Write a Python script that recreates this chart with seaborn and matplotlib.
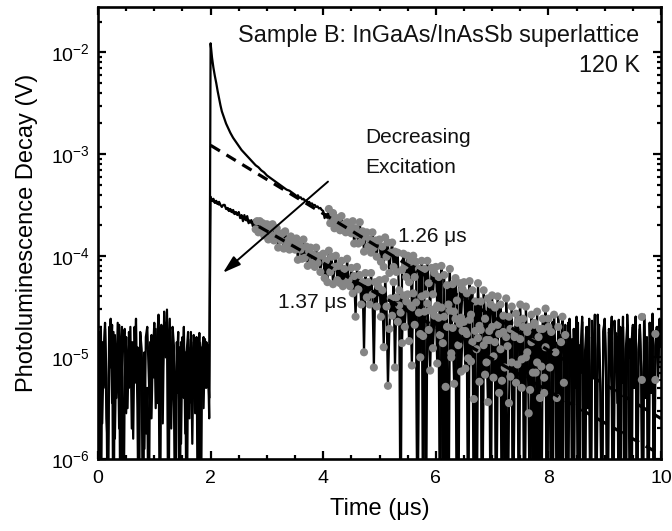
import numpy as np
import pandas as pd
import matplotlib
matplotlib.use("Agg")
import matplotlib.pyplot as plt
import seaborn as sns
from matplotlib.ticker import FixedLocator, LogLocator, MultipleLocator, NullFormatter

# ---------------- data (log10 of volts) ----------------
# pre-pulse background noise, t = 0 ... 1.975 us (step 0.025 us), one row per 0.25 us
t_pre = np.round(np.arange(0.0, 2.0, 0.025), 3)
log_pre_high = [
    -5.00, -4.75, -7.00, -4.85, -5.30, -4.72, -5.60, -5.90, -4.70, -5.10,
    -4.68, -7.00, -4.78, -5.40, -4.66, -5.70, -4.90, -4.70, -7.00, -5.20,
    -4.80, -5.50, -4.75, -5.10, -4.85, -5.80, -4.70, -5.25, -4.90, -5.60,
    -4.80, -5.05, -7.00, -4.95, -5.75, -5.30, -7.00, -4.85, -5.60, -4.90,
    -5.20, -4.72, -5.45, -4.70, -7.00, -4.68, -5.15, -4.66, -5.00, -4.53,
    -5.30, -4.62, -5.70, -4.75, -5.50, -7.00, -4.85, -5.35, -4.90, -5.85,
    -4.80, -5.40, -4.95, -7.00, -4.90, -5.60, -4.75, -5.30, -4.85, -5.55,
    -4.80, -7.00, -4.85, -5.40, -4.90, -5.50, -4.82, -5.30, -4.88, -5.60,
]
log_pre_low = [
    -4.80, -5.35, -4.70, -5.65, -4.95, -4.66, -5.20, -7.00, -4.85, -4.62,
    -5.45, -4.75, -5.80, -4.90, -5.10, -4.68, -7.00, -5.25, -4.80, -4.72,
    -5.55, -4.95, -5.30, -4.70, -5.70, -4.85, -5.05, -4.62, -5.50, -7.00,
    -4.75, -4.92, -5.40, -5.90, -4.80, -4.70, -5.15, -5.60, -4.78, -5.00,
    -4.66, -5.50, -4.85, -4.58, -5.25, -4.72, -5.65, -4.55, -4.95, -4.65,
    -7.00, -4.80, -5.35, -4.70, -4.90, -5.60, -5.10, -4.75, -7.00, -4.85,
    -5.20, -4.70, -5.75, -4.95, -4.75, -5.45, -4.82, -5.85, -4.78, -5.10,
    -4.88, -5.35, -4.76, -7.00, -4.92, -4.80, -5.30, -4.85, -5.00, -5.40,
]

# decays after the pulse, t = 2.000 ... 10.000 us (step 0.025 us), one row per 0.5 us
t_decay = np.round(np.arange(2.0, 10.0001, 0.025), 3)
log_high = [
    -1.91, -2.05, -2.15, -2.23, -2.30, -2.38, -2.45, -2.52, -2.58, -2.62,
    -2.66, -2.70, -2.73, -2.76, -2.79, -2.815, -2.84, -2.86, -2.88, -2.90,
    -2.92, -2.94, -2.96, -2.975, -2.99, -3.005, -3.02, -3.035, -3.05, -3.065,
    -3.08, -3.095, -3.11, -3.12, -3.13, -3.145, -3.16, -3.17, -3.18, -3.195,
    -3.21, -3.22, -3.23, -3.24, -3.25, -3.26, -3.27, -3.28, -3.29, -3.30,
    -3.31, -3.32, -3.33, -3.34, -3.35, -3.355, -3.36, -3.37, -3.38, -3.39,
    -3.40, -3.415, -3.405, -3.43, -3.425, -3.445, -3.44, -3.46, -3.455, -3.475,
    -3.47, -3.49, -3.485, -3.505, -3.50, -3.52, -3.515, -3.535, -3.53, -3.55,
    -3.56, -3.63, -3.59, -3.63, -3.54, -3.68, -3.64, -3.58, -3.73, -3.63,
    -3.69, -3.63, -3.75, -3.61, -3.73, -3.69, -3.77, -3.67, -3.76, -3.72,
    -3.78, -3.66, -3.88, -3.73, -3.79, -3.88, -3.67, -3.86, -3.76, -3.96,
    -3.81, -3.77, -3.91, -3.84, -3.97, -3.77, -3.92, -3.85, -4.01, -3.85,
    -3.84, -4.06, -3.91, -4.11, -3.82, -4.01, -3.87, -4.17, -3.97, -3.87,
    -4.11, -3.96, -4.16, -3.97, -4.49, -7.00, -4.14, -3.98, -4.10, -4.21,
    -4.00, -4.26, -4.06, -4.51, -4.00, -4.21, -4.06, -7.00, -4.13, -4.77,
    -4.05, -7.00, -4.13, -4.38, -4.05, -4.27, -4.54, -4.12, -4.38, -4.17,
    -4.11, -4.49, -4.21, -4.78, -4.10, -7.00, -4.19, -7.00, -4.29, -4.48,
    -4.13, -5.00, -4.28, -4.55, -4.22, -4.44, -7.00, -4.27, -4.61, -4.33,
    -4.26, -4.74, -4.37, -5.01, -4.25, -4.58, -4.34, -7.00, -4.45, -4.92,
    -4.27, -4.69, -4.45, -7.00, -4.34, -4.62, -5.05, -4.42, -4.83, -4.48,
    -4.39, -4.99, -4.51, -7.00, -4.40, -4.77, -4.48, -5.23, -4.59, -7.00,
    -4.42, -4.89, -4.60, -5.19, -4.50, -7.00, -4.80, -4.57, -5.07, -4.63,
    -4.48, -5.02, -4.62, -7.00, -4.50, -4.95, -4.70, -5.32, -4.58, -7.00,
    -4.66, -5.15, -4.55, -7.00, -4.72, -5.09, -4.62, -5.35, -4.52, -7.00,
    -4.62, -5.10, -4.75, -7.00, -4.58, -4.95, -5.40, -4.70, -7.00, -4.85,
    -4.60, -5.25, -4.78, -7.00, -4.66, -5.05, -4.90, -7.00, -4.72, -5.30,
    -4.60, -7.00, -4.88, -5.15, -4.65, -7.00, -4.95, -4.70, -5.50, -4.62,
    -7.00, -4.80, -5.05, -4.58, -7.00, -4.92, -4.68, -5.35, -7.00, -4.75,
    -4.65, -5.20, -7.00, -4.72, -4.98, -4.60, -7.00, -5.10, -4.76, -5.45,
    -4.63, -7.00, -4.90, -4.70, -5.25, -7.00, -4.58, -5.00, -4.82, -7.00,
    -4.68, -5.30, -4.60, -7.00, -4.95, -4.72, -5.15, -7.00, -4.62, -5.40,
    -4.85, -7.00, -4.66, -5.05, -4.57, -7.00, -4.90, -4.70, -5.20, -4.62,
    -4.90,
]
log_low = [
    -3.42, -3.46, -3.44, -3.48, -3.46, -3.49, -3.47, -3.50, -3.52, -3.50,
    -3.50, -3.54, -3.53, -3.56, -3.54, -3.57, -3.55, -3.59, -3.57, -3.60,
    -3.57, -3.63, -3.60, -3.66, -3.60, -3.65, -3.61, -3.68, -3.66, -3.65,
    -3.71, -3.65, -3.74, -3.66, -3.77, -3.66, -3.75, -3.68, -3.80, -3.71,
    -3.69, -3.84, -3.75, -3.82, -3.69, -3.85, -3.80, -3.73, -3.92, -3.79,
    -3.85, -3.78, -3.93, -3.76, -3.90, -3.85, -3.94, -3.81, -3.92, -3.86,
    -3.94, -3.83, -4.04, -3.89, -3.94, -4.03, -3.84, -4.02, -3.91, -4.10,
    -3.96, -3.92, -4.07, -3.99, -4.11, -3.92, -4.07, -4.00, -4.16, -4.00,
    -3.98, -4.22, -4.05, -4.26, -3.95, -4.16, -4.01, -4.28, -4.11, -4.00,
    -4.24, -4.10, -4.27, -4.05, -4.30, -4.13, -4.27, -4.03, -4.24, -4.30,
    -4.12, -4.37, -4.20, -4.60, -4.11, -4.33, -4.19, -4.48, -4.26, -4.95,
    -4.17, -4.41, -4.26, -4.48, -4.17, -4.38, -5.10, -4.26, -4.50, -4.30,
    -4.24, -4.60, -4.34, -4.90, -4.23, -4.50, -5.28, -4.72, -4.42, -4.59,
    -4.26, -5.10, -4.41, -4.65, -4.34, -4.56, -4.86, -4.39, -4.70, -4.45,
    -4.38, -4.84, -4.49, -5.08, -4.37, -4.68, -4.46, -7.00, -4.56, -5.00,
    -4.40, -4.79, -4.55, -7.00, -4.47, -4.73, -5.13, -4.53, -4.91, -4.59,
    -4.52, -5.06, -4.61, -7.00, -4.51, -4.86, -4.60, -5.29, -4.70, -7.00,
    -4.54, -4.96, -4.71, -5.26, -4.62, -7.00, -4.88, -4.67, -5.14, -4.74,
    -4.65, -5.11, -4.77, -7.00, -4.63, -5.04, -4.85, -5.41, -4.74, -7.00,
    -4.81, -5.24, -4.73, -7.00, -4.88, -5.17, -4.83, -5.44, -4.74, -7.00,
    -4.70, -5.20, -4.85, -7.00, -4.68, -5.35, -4.92, -7.00, -4.75, -5.10,
    -4.80, -7.00, -5.45, -4.72, -5.05, -7.00, -4.78, -5.25, -4.66, -7.00,
    -4.82, -5.30, -4.70, -7.00, -5.00, -4.75, -5.55, -7.00, -4.85, -5.15,
    -4.68, -7.00, -5.05, -4.80, -5.40, -7.00, -4.72, -5.20, -4.90, -7.00,
    -4.70, -5.25, -7.00, -4.65, -5.05, -4.85, -7.00, -4.60, -5.35, -4.78,
    -7.00, -4.95, -4.68, -5.15, -7.00, -4.62, -5.00, -4.82, -7.00, -4.72,
    -5.30, -4.66, -7.00, -4.90, -4.60, -5.45, -7.00, -4.80, -4.70, -5.10,
    -7.00, -4.64, -5.20, -4.88, -7.00, -4.58, -4.95, -5.35, -7.00, -4.75,
    -4.62, -5.10, -7.00, -4.75, -4.90, -5.40, -7.00, -4.64, -5.00, -4.80,
    -7.00, -4.70, -5.25, -4.60, -7.00, -4.92, -4.68, -5.15, -7.00, -4.85,
    -4.70, -5.30, -4.60, -7.00, -4.92, -4.68, -5.15, -7.00, -4.58, -5.05,
    -4.80, -7.00, -4.66, -5.35, -4.62, -7.00, -4.88, -4.72, -5.10, -4.65,
    -4.80,
]

# fitting windows (data shown as grey dots) in us
window_high = (4.1, 8.3)
window_low = (2.8, 8.0)

# a few stray grey points near the right edge
t_stray = [9.66, 9.66, 9.90, 9.90]
v_stray = [2.5e-5, 6.0e-6, 1.7e-5, 6.0e-6]

fit_t = [2.0, 10.0]
fit_high = [1.22e-3, 2.5e-6]   # 1.26 us
fit_low = [3.6e-4, 1.1e-6]     # 1.37 us

# annotations
arrow_from = (4.085, 5.36e-4)
arrow_to = (2.22, 6.8e-5)
x_ticks = [0, 2, 4, 6, 8, 10]
y_ticks = [1e-6, 1e-5, 1e-4, 1e-3, 1e-2]

# ---------------- build tables ----------------
high = pd.DataFrame({"t": np.concatenate([t_pre, t_decay]),
                     "v": 10.0 ** np.concatenate([log_pre_high, log_high])})
low = pd.DataFrame({"t": np.concatenate([t_pre, t_decay]),
                    "v": 10.0 ** np.concatenate([log_pre_low, log_low])})
dots_high = high[(high.t >= window_high[0]) & (high.t <= window_high[1])]
dots_low = low[(low.t >= window_low[0]) & (low.t <= window_low[1])]
dots_stray = pd.DataFrame({"t": t_stray, "v": v_stray})
fits = pd.DataFrame({"t": fit_t + fit_t, "v": fit_high + fit_low,
                     "fit": ["1.26"] * 2 + ["1.37"] * 2})

# ---------------- style ----------------
sns.set_theme(style="ticks")
plt.rcParams["font.family"] = ["Liberation Sans", "DejaVu Sans"]
plt.rcParams["mathtext.fontset"] = "custom"
plt.rcParams["mathtext.rm"] = "Liberation Sans"
plt.rcParams["mathtext.it"] = "Liberation Sans:italic"
plt.rcParams["mathtext.bf"] = "Liberation Sans:bold"

fig = plt.figure(figsize=(6.72, 5.31), dpi=100)
ax = fig.add_axes([98 / 672, 1 - 459 / 531, (661 - 98) / 672, (459 - 7) / 531])
ax.set_yscale("log")

gray = "#858585"
sns.lineplot(data=low, x="t", y="v", ax=ax, color="black", lw=1.6,
             estimator=None, sort=False, zorder=2)
sns.lineplot(data=high, x="t", y="v", ax=ax, color="black", lw=1.6,
             estimator=None, sort=False, zorder=2)
for d in (dots_low, dots_high, dots_stray):
    sns.scatterplot(data=d, x="t", y="v", ax=ax, color=gray, s=34,
                    edgecolor="none", linewidth=0, zorder=3)
sns.lineplot(data=fits, x="t", y="v", units="fit", ax=ax, color="black",
             lw=2.3, estimator=None, sort=False, zorder=4)
for ln in ax.lines[-2:]:
    ln.set_dashes((3.4, 2.4))

ax.annotate("", xy=arrow_to, xytext=arrow_from,
            arrowprops=dict(arrowstyle="-|>,head_length=0.9,head_width=0.28",
                            lw=1.4, color="black", shrinkA=0, shrinkB=0),
            zorder=5)

txt = dict(zorder=6, color="#111111")
ax.text(0.962, 0.937, "Sample B: InGaAs/InAsSb superlattice", transform=ax.transAxes,
        ha="right", va="center", fontsize=16.8, **txt)
ax.text(0.962, 0.870, "120 K", transform=ax.transAxes, ha="right", va="center",
        fontsize=16.8, **txt)
ax.text(4.74, 1.45e-3, "Decreasing", ha="left", va="center", fontsize=15, **txt)
ax.text(4.74, 7.3e-4, "Excitation", ha="left", va="center", fontsize=15, **txt)
ax.text(5.32, 1.55e-4, "1.26 μs", ha="left", va="center", fontsize=15, **txt)
ax.text(3.19, 3.45e-5, "1.37 μs", ha="left", va="center", fontsize=15, **txt)

ax.set_xlim(0, 10)
ax.set_ylim(1e-6, 2.8e-2)
ax.xaxis.set_major_locator(FixedLocator(x_ticks))
ax.xaxis.set_minor_locator(MultipleLocator(0.5))
ax.yaxis.set_major_locator(FixedLocator(y_ticks))
ax.yaxis.set_minor_locator(LogLocator(base=10, subs=np.arange(2, 10)))
ax.yaxis.set_minor_formatter(NullFormatter())
ax.tick_params(which="both", direction="in", top=True, right=True, color="black",
               labelsize=14, labelcolor="black")
ax.tick_params(which="major", length=6, width=1.6)
ax.tick_params(which="minor", length=3, width=1.6)
ax.tick_params(axis="x", which="major", pad=8)
ax.tick_params(axis="y", which="major", pad=6)
for sp in ax.spines.values():
    sp.set_linewidth(1.9)
    sp.set_color("black")

ax.set_xlabel("Time (μs)", fontsize=17, color="black", labelpad=8)
ax.set_ylabel("Photoluminescence Decay (V)", fontsize=17, color="black", labelpad=9.5)
ax.set_facecolor("white")
fig.patch.set_facecolor("white")

fig.savefig("out.png", dpi=100)
